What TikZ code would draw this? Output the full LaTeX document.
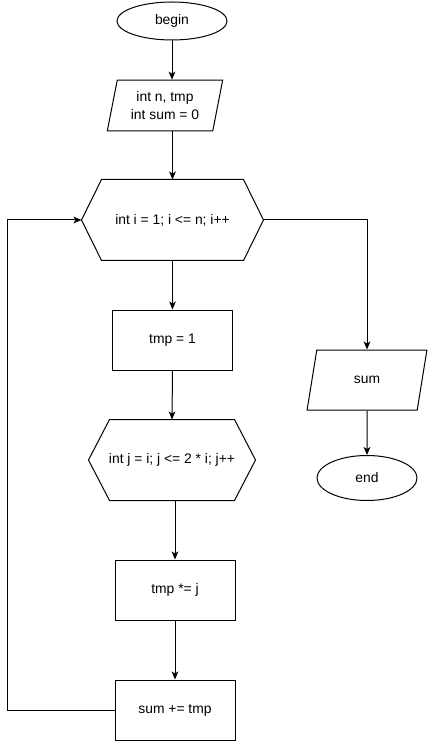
\documentclass[tikz,border=0pt]{standalone}
\usepackage{fontspec}
\setmainfont{Liberation Sans}
\usetikzlibrary{shapes.geometric, arrows.meta}

\tikzset{
  arr/.style={-{Stealth[length=6pt,width=5pt,inset=1.5pt]}},
  term/.style={draw, ellipse, inner sep=0pt},
  iobox/.style={draw, trapezium, trapezium stretches=true, inner sep=0pt, align=center},
  procbox/.style={draw, rectangle, inner sep=0pt, minimum width=90pt, minimum height=45pt},
  hexbox/.style={rectangle, inner sep=0pt, minimum height=60pt}
}

\begin{document}
\begin{tikzpicture}[x=0.75pt, y=-0.75pt, font=\fontsize{10.4pt}{13.2pt}\selectfont, line width=0.75pt]
            \useasboundingbox (0,0) rectangle (428,741);
            % shapes
            \node[term, minimum width=82.5pt, minimum height=28.5pt] (begin) at (172,21) {begin};
            \node[iobox, trapezium left angle=75.7, trapezium right angle=104.3,
                  minimum width=87pt, minimum height=38pt] (decl) at (165,105.5) {int n, tmp\\int sum = 0};
            \node[hexbox, minimum width=135.75pt] (outer) at (172.5,220) {int i = 1; i <= n; i++};
            \node[procbox] (init) at (172.5,340) {tmp = 1};
            \node[hexbox, minimum width=124.5pt] (inner) at (172,460) {int j = i; j <= 2 * i; j++};
            \node[procbox] (mul) at (175,590) {tmp *= j};
            \node[procbox] (add) at (175,710) {sum += tmp};
            \node[iobox, trapezium left angle=71.6, trapezium right angle=108.4,
                  minimum width=90pt, minimum height=45pt] (out) at (367,380) {sum};
            \node[term, minimum width=75pt, minimum height=33.75pt] (end) at (367,478) {end};
            % hexagon outlines
            \draw (outer.west) -- ([xshift=15pt]outer.north west) -- ([xshift=-15pt]outer.north east)
                  -- (outer.east) -- ([xshift=-15pt]outer.south east) -- ([xshift=15pt]outer.south west) -- cycle;
            \draw (inner.west) -- ([xshift=15.75pt]inner.north west) -- ([xshift=-15.75pt]inner.north east)
                  -- (inner.east) -- ([xshift=-15.75pt]inner.south east) -- ([xshift=15.75pt]inner.south west) -- cycle;
            % connectors
            \coordinate (back) at (7,710);
            \draw[arr] (begin) -- (begin |- decl.north);
            \draw[arr] (outer.north |- decl.south) -- (outer.north);
            \draw[arr] (outer.south) -- (init.north);
            \draw[arr] (init.south) -- (inner.north);
            \draw[arr] (mul.north |- inner.south) -- (mul.north);
            \draw[arr] (mul.south) -- (add.north);
            \draw[arr] (add.west) -- (back) |- (outer.west);
            \draw[arr] (outer.east) -| (out.north);
            \draw[arr] (out.south) -- (end.north);
\end{tikzpicture}
\end{document}
